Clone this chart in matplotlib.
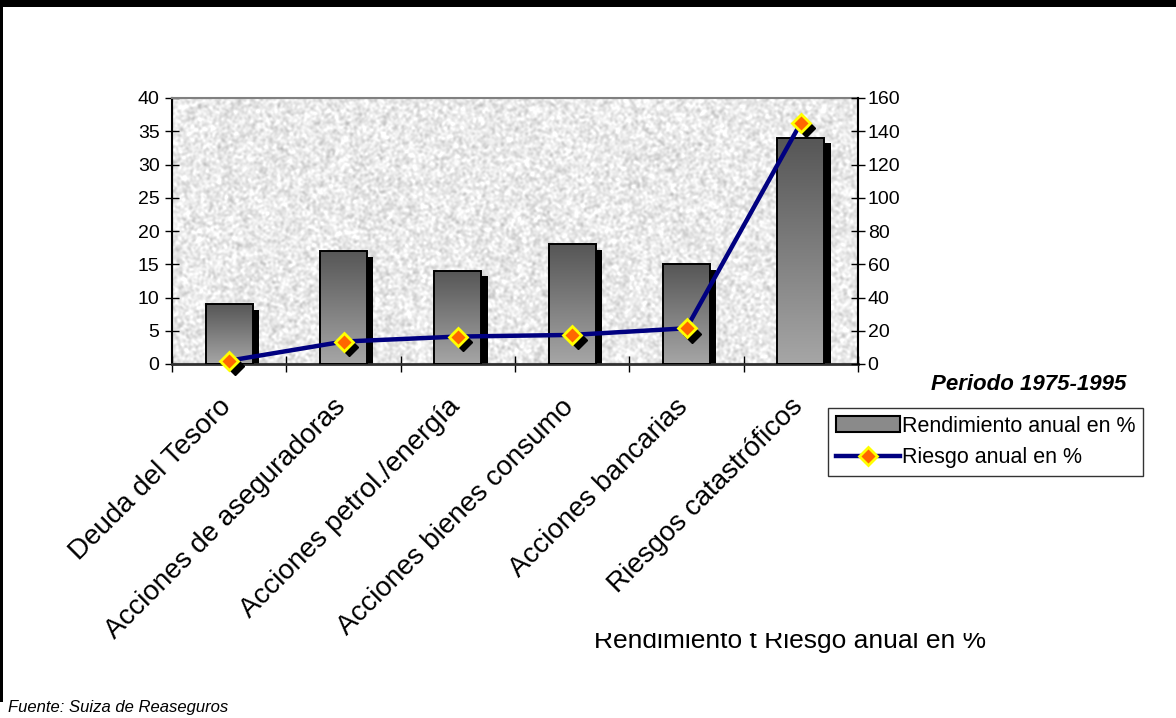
import numpy as np
import matplotlib
matplotlib.use("Agg")
import matplotlib.pyplot as plt
from matplotlib.patches import Rectangle, Patch
from matplotlib.lines import Line2D
from matplotlib.colors import LinearSegmentedColormap
from matplotlib.transforms import offset_copy, blended_transform_factory

# Data
categories = [
    "Deuda del Tesoro",
    "Acciones de aseguradoras",
    "Acciones petrol./energía",
    "Acciones bienes consumo",
    "Acciones bancarias",
    "Riesgos catastróficos",
]
rendimiento = [9, 17, 14, 18, 15, 34]
riesgo = [2, 13.5, 16.5, 17.5, 21.5, 145]
left_ticks = [0, 5, 10, 15, 20, 25, 30, 35, 40]
right_ticks = [0, 20, 40, 60, 80, 100, 120, 140, 160]

W, H = 1176, 718
plt.rcParams["font.family"] = ["Liberation Sans", "DejaVu Sans"]
fig = plt.figure(figsize=(W / 100, H / 100), dpi=100)


def fx(px):
    return px / W


def fy(py):
    return 1 - py / H


# Plot area
x0, x1, y0, y1 = 172, 858, 98, 364
ax = fig.add_axes([fx(x0), fy(y1), fx(x1 - x0), (y1 - y0) / H])
n = len(categories)
xpos = np.arange(n)

# granite-like background texture
rng = np.random.default_rng(7)
noise = rng.random((266, 686))
k = np.array([1, 3, 4, 3, 1], float)
k /= k.sum()
for axis in (0, 1):
    noise = np.apply_along_axis(lambda r: np.convolve(r, k, mode="same"), axis, noise)
noise = (noise - noise.min()) / (noise.max() - noise.min())
tex = 0.70 + 0.40 * noise
ax.imshow(np.clip(tex, 0, 1), cmap="gray", vmin=0, vmax=1,
          extent=(-0.5, n - 0.5, 0, 40), aspect="auto", zorder=0,
          interpolation="nearest")

# bar shadows
shadow_tr = offset_copy(ax.transData, fig=fig, x=4.5, y=-4.0, units="points")
ax.bar(xpos, rendimiento, width=0.41, color="black", transform=shadow_tr, zorder=1)

# gradient bars
bar_cmap = LinearSegmentedColormap.from_list("bargrad", ["#565656", "#a6a6a6"])
bars = ax.bar(xpos, rendimiento, width=0.41, facecolor="none",
              edgecolor="black", linewidth=1.4, zorder=3)
grad = np.linspace(0, 1, 256).reshape(-1, 1)
for b in bars:
    bx, by = b.get_x(), b.get_y()
    bw, bh = b.get_width(), b.get_height()
    im = ax.imshow(grad, cmap=bar_cmap, vmin=0, vmax=1,
                   extent=(bx, bx + bw, by, by + bh), aspect="auto",
                   origin="upper", zorder=2)
    im.set_clip_path(b)
ax.set_xlim(-0.5, n - 0.5)
ax.set_ylim(0, 40)

ax.set_yticks(left_ticks)
ax.set_xticks(np.arange(n + 1) - 0.5)
ax.set_xticklabels([])
ax.tick_params(axis="x", which="major", direction="inout", length=12,
               width=1, color="black")
ax.tick_params(axis="y", direction="inout", length=10, width=1,
               labelsize=14, pad=4)

# rotated category labels, right end just below each category centre
lab_tr = offset_copy(blended_transform_factory(ax.transData, ax.transAxes),
                     fig=fig, x=-1.5, y=-28, units="points")
for i, lab in enumerate(categories):
    ax.text(xpos[i], 0, lab, transform=lab_tr, rotation=45, ha="right",
            va="center", rotation_mode="anchor", fontsize=20, clip_on=False)

ax.spines["left"].set_color("black")
ax.spines["left"].set_linewidth(1.5)
ax.spines["bottom"].set_color("#303030")
ax.spines["bottom"].set_linewidth(2)
ax.spines["top"].set_color("#808080")
ax.spines["top"].set_linewidth(1.5)
ax.spines["right"].set_visible(False)

# risk line on secondary axis
ax2 = ax.twinx()
ax2.set_ylim(0, 160)
ax2.set_yticks(right_ticks)
ax2.tick_params(axis="y", direction="inout", length=10, width=1,
                labelsize=14, pad=2)
ax2.spines["right"].set_color("black")
ax2.spines["right"].set_linewidth(1.5)
for s in ("left", "top", "bottom"):
    ax2.spines[s].set_visible(False)

mk_shadow = offset_copy(ax2.transData, fig=fig, x=4.0, y=-4.0, units="points")
ax2.plot(xpos, riesgo, linestyle="none", marker="D", markersize=9,
         color="black", transform=mk_shadow, zorder=2, clip_on=False)
ax2.plot(xpos, riesgo, color="#000080", linewidth=3.2, zorder=3,
         marker="D", markersize=9, markerfacecolor="#ff6600",
         markeredgecolor="#ffff00", markeredgewidth=2, clip_on=False)

# legend
handles = [
    Patch(facecolor="#8a8a8a", edgecolor="black", linewidth=1.5),
    Line2D([], [], color="#000080", linewidth=3.2, marker="D", markersize=9,
           markerfacecolor="#ff6600", markeredgecolor="#ffff00",
           markeredgewidth=2),
]
leg = fig.legend(handles, ["Rendimiento anual en %", "Riesgo anual en %"],
                 loc="upper left", bbox_to_anchor=(fx(828), fy(408)),
                 fontsize=15.5, frameon=True, fancybox=False, borderpad=0.35,
                 handlelength=3.0, handletextpad=0.1, labelspacing=0.5,
                 borderaxespad=0, numpoints=1)
leg.get_frame().set_edgecolor("black")
leg.get_frame().set_linewidth(1)

fig.text(fx(1126), fy(385), "Periodo 1975-1995", ha="right", va="center",
         fontsize=16, fontweight="bold", fontstyle="italic")

# partly hidden caption below the chart
fig.text(fx(790), fy(648), "Rendimiento t Riesgo anual en %", ha="center",
         va="baseline", fontsize=19)
fig.patches.append(Rectangle((fx(560), fy(633)), fx(460), 26 / H,
                             transform=fig.transFigure, facecolor="white",
                             edgecolor="none", zorder=5))

fig.text(fx(8), fy(712), "Fuente: Suiza de Reaseguros", ha="left",
         va="baseline", fontsize=12, fontstyle="italic")

# outer frame
fig.patches.append(Rectangle((0, fy(7)), 1, 7 / H, transform=fig.transFigure,
                             facecolor="black", edgecolor="none", zorder=6))
fig.patches.append(Rectangle((0, fy(702)), fx(3), 702 / H,
                             transform=fig.transFigure, facecolor="black",
                             edgecolor="none", zorder=6))

fig.savefig("out.png", dpi=100)
